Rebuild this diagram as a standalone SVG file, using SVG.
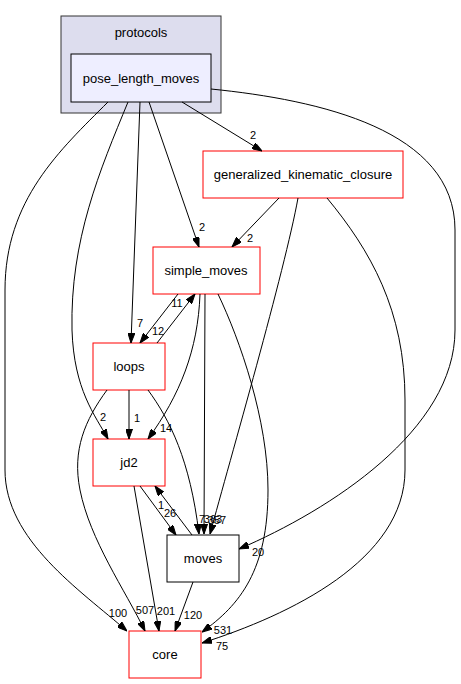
<svg xmlns="http://www.w3.org/2000/svg" width="461" height="684" viewBox="0 0 461 684">
<style>
.lbl{font-family:"Liberation Sans",Arial,sans-serif;font-size:13px;fill:#000;text-anchor:middle}
.el{font-family:"Liberation Sans",Arial,sans-serif;font-size:11px;fill:#000;text-anchor:middle}
.red{fill:#fff;stroke:#ff0000;stroke-width:1}
.blk{fill:#fff;stroke:#000;stroke-width:1}
.e{fill:none;stroke:#000;stroke-width:1;marker-end:url(#ah)}
</style>
<defs>
<marker id="ah" viewBox="0 0 10 7" refX="10" refY="3.5" markerWidth="10" markerHeight="7" markerUnits="userSpaceOnUse" orient="auto">
<path d="M0,0 L10,3.5 L0,7 z" fill="#000" stroke="#000"/>
</marker>
</defs>
<rect width="461" height="684" fill="#fff"/>
<g id="cluster_protocols">
<rect x="61" y="16" width="160" height="97" fill="#ddddee" stroke="#333" stroke-width="1"/>
<text class="lbl" x="141" y="37">protocols</text>
</g>
<g id="node_pose_length_moves">
<rect x="71" y="54" width="140" height="48" fill="#eeeeff" stroke="#000" stroke-width="1"/>
<text class="lbl" x="141" y="83">pose_length_moves</text>
</g>
<g id="node_generalized_kinematic_closure">
<rect class="red" x="203" y="151" width="200" height="47"/>
<text class="lbl" x="303" y="179">generalized_kinematic_closure</text>
</g>
<g id="node_simple_moves">
<rect class="red" x="153" y="247" width="107" height="47"/>
<text class="lbl" x="206" y="275">simple_moves</text>
</g>
<g id="node_loops">
<rect class="red" x="93" y="343" width="72" height="47"/>
<text class="lbl" x="129" y="371">loops</text>
</g>
<g id="node_jd2">
<rect class="red" x="93" y="439" width="72" height="47"/>
<text class="lbl" x="129" y="467">jd2</text>
</g>
<g id="node_moves">
<rect class="blk" x="167" y="535" width="72" height="47"/>
<text class="lbl" x="203" y="563">moves</text>
</g>
<g id="node_core">
<rect class="red" x="129" y="631" width="72" height="47"/>
<text class="lbl" x="165" y="659">core</text>
</g>
<g id="connectors">
<path class="e" d="M182,102 L262,151"/>
<text class="el" x="253" y="139">2</text>
<path class="e" d="M149,102 L199,247"/>
<text class="el" x="202" y="231">2</text>
<path class="e" d="M140,102 L131,343"/>
<text class="el" x="140" y="327">7</text>
<path class="e" d="M128,102 C100,170 70,240 72,330 C74,390 95,415 108,439"/>
<text class="el" x="103" y="421">2</text>
<path class="e" d="M108,102 C60,150 5,200 5,290 L5,470 C5,540 80,590 127,631"/>
<text class="el" x="118" y="617">100</text>
<path class="e" d="M211,89 C320,100 455,130 455,230 L455,330 C455,430 330,510 239,549"/>
<text class="el" x="258" y="556">20</text>
<path class="e" d="M279,198 L232,247"/>
<text class="el" x="250" y="242">2</text>
<path class="e" d="M298,198 C285,270 230,460 210,534"/>
<path class="e" d="M327,198 C370,250 405,310 405,400 L405,470 C405,560 290,615 202,643"/>
<text class="el" x="222" y="650">75</text>
<path class="e" d="M218,294 C240,340 268,420 268,490 C268,570 240,605 202,632"/>
<text class="el" x="223" y="634">531</text>
<path class="e" d="M178,294 L140,343"/>
<text class="el" x="158" y="335">12</text>
<path class="e" d="M157,343 L195,294"/>
<text class="el" x="177" y="307">11</text>
<path class="e" d="M200,294 C198,350 180,395 148,439"/>
<text class="el" x="166" y="432">14</text>
<path class="e" d="M205,294 L204,534"/>
<path class="e" d="M148,390 C170,420 190,460 199,534"/>
<text class="el" x="202" y="523">7</text>
<text class="el" x="213" y="523">363</text>
<text class="el" x="217" y="524">357</text>
<path class="e" d="M129,390 L129,439"/>
<text class="el" x="137" y="422">1</text>
<path class="e" d="M107,390 C85,420 72,450 80,490 C90,540 125,590 145,631"/>
<text class="el" x="145" y="614">507</text>
<path class="e" d="M140,486 L176,535"/>
<text class="el" x="170" y="517">26</text>
<path class="e" d="M192,535 L155,486"/>
<text class="el" x="161" y="509">1</text>
<path class="e" d="M134,486 L159,631"/>
<text class="el" x="166" y="615">201</text>
<path class="e" d="M193,582 L175,631"/>
<text class="el" x="193" y="619">120</text>
</g>
</svg>
